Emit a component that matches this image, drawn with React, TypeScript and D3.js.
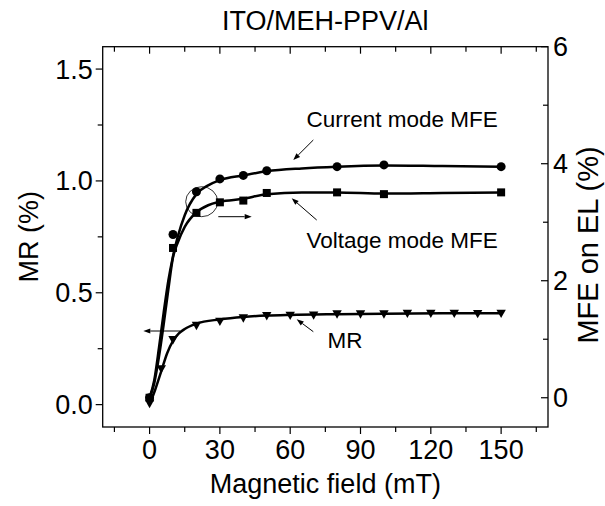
import React from "react";
import * as d3 from "d3";

// ---- data ----
const currentX = [0, 10, 20, 30, 40, 50, 80, 100, 150];
const currentY = [0.0, 2.79, 3.52, 3.74, 3.8, 3.88, 3.95, 3.98, 3.95];
const voltageX = [0, 10, 20, 30, 40, 50, 80, 100, 150];
const voltageY = [0.0, 2.56, 3.16, 3.34, 3.37, 3.5, 3.51, 3.48, 3.51];
const mrX = [0, 5, 10, 20, 30, 40, 50, 60, 70, 80, 90, 100, 110, 120, 130, 140, 150];
const mrY = [0.005, 0.16, 0.29, 0.354, 0.372, 0.387, 0.397, 0.399, 0.4, 0.405, 0.405, 0.405, 0.408, 0.408, 0.408, 0.407, 0.408];

// fitted curves
const currentFitX = [0, 2, 4, 6, 8, 10, 12, 15, 20, 25, 30, 40, 50, 65, 80, 100, 125, 150];
const currentFitY = [0, 0.3, 0.85, 1.45, 2.0, 2.42, 2.75, 3.12, 3.48, 3.63, 3.72, 3.8, 3.87, 3.92, 3.95, 3.97, 3.96, 3.95];
const voltageFitX = [0, 2, 4, 6, 8, 10, 12, 15, 20, 25, 30, 40, 50, 65, 80, 100, 125, 150];
const voltageFitY = [0, 0.25, 0.7, 1.25, 1.85, 2.4, 2.65, 2.92, 3.17, 3.29, 3.35, 3.4, 3.48, 3.51, 3.51, 3.49, 3.5, 3.51];
const mrFitX = [0, 2.5, 5, 7.5, 10, 12.5, 15, 20, 30, 40, 50, 60, 80, 100, 125, 150];
const mrFitY = [0, 0.07, 0.15, 0.23, 0.285, 0.318, 0.338, 0.362, 0.381, 0.392, 0.398, 0.401, 0.404, 0.406, 0.408, 0.409];

const xMajor = [0, 30, 60, 90, 120, 150];
const xMinor = [-15, 15, 45, 75, 105, 135, 165];
const leftMajor = [0, 0.5, 1.0, 1.5];
const leftMinor = [0.25, 0.75, 1.25];
const rightMajor = [0, 2, 4, 6];
const rightMinor = [1, 3, 5];

const title = "ITO/MEH-PPV/Al";
const xLabel = "Magnetic field (mT)";
const leftLabel = "MR (%)";
const rightLabel = "MFE on EL (%)";

const W = 605, H = 506;
const L = 102.7, R = 548, T = 46.7, B = 427;
const FONT = "Arial, 'Liberation Sans', Helvetica, sans-serif";

export default function App() {
  const x = d3.scaleLinear().domain([-20, 170]).range([L, R]);
  const yL = d3.scaleLinear().domain([-0.1, 1.6]).range([B, T]);
  const yR = d3.scaleLinear().domain([-0.5, 6]).range([B, T]);

  const lineR = d3.line<[number, number]>().x(d => x(d[0])).y(d => yR(d[1])).curve(d3.curveMonotoneX);
  const lineL = d3.line<[number, number]>().x(d => x(d[0])).y(d => yL(d[1])).curve(d3.curveMonotoneX);

  const zip = (a: number[], b: number[]) => a.map((v, i) => [v, b[i]] as [number, number]);

  const fmtL = (v: number) => v.toFixed(1);
  const tickFS = 27;

  const arrowHead = (x1: number, y1: number, x2: number, y2: number, key: string) => {
    const ang = Math.atan2(y2 - y1, x2 - x1);
    const len = 7, w = 2.6;
    const bx = x2 - len * Math.cos(ang), by = y2 - len * Math.sin(ang);
    const px = -Math.sin(ang) * w, py = Math.cos(ang) * w;
    return (
      <g key={key}>
        <line x1={x1} y1={y1} x2={bx} y2={by} stroke="#000" strokeWidth={1} />
        <path d={`M${x2},${y2}L${bx + px},${by + py}L${bx - px},${by - py}Z`} fill="#000" />
      </g>
    );
  };

  return (
    <svg width={W} height={H} style={{ position: "absolute", left: 0, top: 0, background: "#fff" }} fontFamily={FONT}>
      <rect x={0} y={0} width={W} height={H} fill="#fff" />
      {/* title */}
      <text x={(L + R) / 2} y={30} textAnchor="middle" fontSize={27}>{title}</text>

      {/* frame */}
      <rect x={L} y={T} width={R - L} height={B - T} fill="none" stroke="#000" strokeWidth={1.3} />

      {/* bottom ticks (outward) and top ticks (inward) */}
      {xMajor.map(v => (
        <g key={"xm" + v}>
          <line x1={x(v)} x2={x(v)} y1={B} y2={B + 7} stroke="#000" strokeWidth={1.2} />
          <line x1={x(v)} x2={x(v)} y1={T} y2={T + 7} stroke="#000" strokeWidth={1.2} />
          <text x={x(v)} y={B + 32} textAnchor="middle" fontSize={tickFS}>{v}</text>
        </g>
      ))}
      {xMinor.map(v => (
        <g key={"xn" + v}>
          <line x1={x(v)} x2={x(v)} y1={B} y2={B + 5} stroke="#000" strokeWidth={1.2} />
          <line x1={x(v)} x2={x(v)} y1={T} y2={T + 5} stroke="#000" strokeWidth={1.2} />
        </g>
      ))}

      {/* left axis */}
      {leftMajor.map(v => (
        <g key={"lm" + v}>
          <line x1={L - 7} x2={L} y1={yL(v)} y2={yL(v)} stroke="#000" strokeWidth={1.2} />
          <text x={L - 10} y={yL(v) + 9.5} textAnchor="end" fontSize={tickFS}>{fmtL(v)}</text>
        </g>
      ))}
      {leftMinor.map(v => (
        <line key={"ln" + v} x1={L - 5} x2={L} y1={yL(v)} y2={yL(v)} stroke="#000" strokeWidth={1.2} />
      ))}

      {/* right axis (ticks inward) */}
      {rightMajor.map(v => (
        <g key={"rm" + v}>
          <line x1={R - 7} x2={R} y1={yR(v)} y2={yR(v)} stroke="#000" strokeWidth={1.2} />
          <text x={R + 5} y={yR(v) + 9.5} textAnchor="start" fontSize={tickFS}>{v}</text>
        </g>
      ))}
      {rightMinor.map(v => (
        <line key={"rn" + v} x1={R - 5} x2={R} y1={yR(v)} y2={yR(v)} stroke="#000" strokeWidth={1.2} />
      ))}

      {/* axis labels */}
      <text x={(L + R) / 2} y={493} textAnchor="middle" fontSize={27}>{xLabel}</text>
      <text transform={`translate(38,${(T + B) / 2}) rotate(-90)`} textAnchor="middle" fontSize={27}>{leftLabel}</text>
      <text transform={`translate(598,245) rotate(-90)`} textAnchor="middle" fontSize={29}>{rightLabel}</text>

      {/* fit curves */}
      <path d={lineR(zip(currentFitX, currentFitY)) || ""} fill="none" stroke="#000" strokeWidth={2.5} />
      <path d={lineR(zip(voltageFitX, voltageFitY)) || ""} fill="none" stroke="#000" strokeWidth={2.5} />
      <path d={lineL(zip(mrFitX, mrFitY)) || ""} fill="none" stroke="#000" strokeWidth={2.5} />

      {/* markers */}
      {currentX.map((v, i) => (
        <circle key={"c" + i} cx={x(v)} cy={yR(currentY[i])} r={4.5} fill="#000" />
      ))}
      {voltageX.map((v, i) => (
        <rect key={"s" + i} x={x(v) - 4} y={yR(voltageY[i]) - 4} width={8} height={8} fill="#000" />
      ))}
      {mrX.map((v, i) => {
        const cx = x(v), cy = yL(mrY[i]);
        return <path key={"t" + i} d={`M${cx - 4.7},${cy - 3.7}L${cx + 4.7},${cy - 3.7}L${cx},${cy + 4.7}Z`} fill="#000" />;
      })}

      {/* annotations */}
      <ellipse cx={201.7} cy={201.7} rx={16} ry={15} fill="none" stroke="#000" strokeWidth={0.8} />
      {arrowHead(218.3, 216.7, 251.7, 216.7, "a1")}
      {arrowHead(180, 331, 143.3, 331, "a2")}
      {arrowHead(313.3, 140, 293.3, 160, "a3")}
      {arrowHead(316.7, 220, 291.7, 198.3, "a4")}
      {arrowHead(313.3, 331.7, 296.7, 319.3, "a5")}

      <text x={306.5} y={126.5} fontSize={22.5}>Current mode MFE</text>
      <text x={306.5} y={248.3} fontSize={22.5}>Voltage mode MFE</text>
      <text x={327.5} y={348.3} fontSize={22.5}>MR</text>
    </svg>
  );
}
